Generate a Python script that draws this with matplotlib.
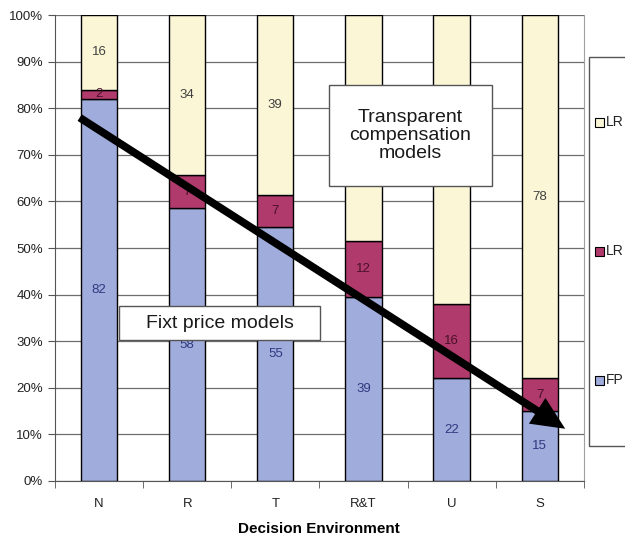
import numpy as np
import matplotlib.pyplot as plt
from matplotlib.patches import Rectangle

plt.rcParams['font.family'] = ['Liberation Sans', 'DejaVu Sans']

entornos = ['N', 'R', 'T', 'R&T', 'U', 'S']
fp = np.array([82, 58, 55, 39, 22, 15])
lr_rojo = np.array([2, 7, 7, 12, 16, 7])
lr_amarillo = np.array([16, 34, 39, 48, 62, 78])
# etiquetas amarillas tapadas por el cuadro de texto en el original
ocultas = ['R&T', 'U']
nombres_leyenda = ['LR', 'LR', 'FP']

col_fp = '#a0acdb'
col_rojo = '#b03a6c'
col_amar = '#faf6d6'

# 100% apilado
total = fp + lr_rojo + lr_amarillo
p_fp = fp / total * 100
p_rojo = lr_rojo / total * 100
p_amar = lr_amarillo / total * 100

fig = plt.figure(figsize=(6.25, 5.41), dpi=100)
ax = fig.add_axes([0.088, 0.111, 0.846, 0.861])

x = np.arange(len(entornos))
ancho = 0.41
ax.bar(x, p_fp, ancho, color=col_fp, edgecolor='black', linewidth=1, zorder=2)
ax.bar(x, p_rojo, ancho, bottom=p_fp, color=col_rojo, edgecolor='black', linewidth=1, zorder=2)
ax.bar(x, p_amar, ancho, bottom=p_fp + p_rojo, color=col_amar, edgecolor='black', linewidth=1, zorder=2)

for i in range(len(x)):
    ax.text(x[i], p_fp[i] / 2, str(fp[i]), ha='center', va='center', fontsize=9.5, color='#2e3a80', zorder=3)
    ax.text(x[i], p_fp[i] + p_rojo[i] / 2, str(lr_rojo[i]), ha='center', va='center', fontsize=9.5, color='#4a1028', zorder=3)
    if entornos[i] not in ocultas:
        ax.text(x[i], p_fp[i] + p_rojo[i] + p_amar[i] / 2, str(lr_amarillo[i]), ha='center', va='center',
                fontsize=9.5, color='#404040', zorder=3)

ax.set_xlim(-0.5, len(entornos) - 0.5)
ax.set_ylim(0, 100)
ax.set_yticks(np.arange(0, 101, 10))
ax.set_yticklabels([f'{v}%' for v in range(0, 101, 10)], fontsize=9.5, color='#222222')
ax.yaxis.grid(True, color='#6e6e6e', linewidth=0.9, zorder=0)
ax.set_axisbelow(True)

ax.set_xticks(x)
ax.set_xticklabels(entornos, fontsize=9.5, color='#222222')
ax.set_xticks(np.arange(-0.5, len(entornos), 1), minor=True)
ax.tick_params(axis='x', which='major', length=0, pad=12)
ax.tick_params(axis='x', which='minor', length=5, color='#555555')
ax.tick_params(axis='y', length=5, color='#555555')
ax.set_xlabel('Decision Environment', fontsize=11, fontweight='bold', labelpad=9)

ax.spines['top'].set_visible(False)
ax.spines['right'].set_color('#a0a0a0')
ax.spines['left'].set_color('#555555')
ax.spines['bottom'].set_color('#555555')

# flecha
ax.annotate('', xy=(5.29, 11.2), xytext=(-0.22, 78.0),
            arrowprops=dict(arrowstyle='simple,head_length=1.2,head_width=1.1,tail_width=0.28',
                            facecolor='black', edgecolor='none', mutation_scale=20,
                            shrinkA=0, shrinkB=0), zorder=5)

# cuadros de texto
def cuadro(x0, y0, x1, y1, texto, fs):
    fig.add_artist(Rectangle((x0 / 625, 1 - y1 / 541), (x1 - x0) / 625, (y1 - y0) / 541,
                             transform=fig.transFigure, facecolor='white', edgecolor='#555555', lw=1))
    fig.text((x0 + x1) / 2 / 625, 1 - (y0 + y1) / 2 / 541, texto, ha='center', va='center',
             fontsize=fs, color='#1a1a1a', linespacing=1.1)

cuadro(329, 85, 492, 186, 'Transparent\ncompensation\nmodels', 14)
cuadro(119, 306, 320, 340, 'Fixt price models', 14)

# leyenda (cortada por el borde derecho, como en el original)
fig.add_artist(Rectangle((589 / 625, 1 - 446 / 541), 60 / 625, (446 - 57) / 541,
                         transform=fig.transFigure, facecolor='white', edgecolor='#555555', lw=1))
for yy, col, nom in zip([122, 251, 380], [col_amar, col_rojo, col_fp], nombres_leyenda):
    fig.add_artist(Rectangle((595 / 625, 1 - (yy + 4.5) / 541), 9 / 625, 9 / 541,
                             transform=fig.transFigure, facecolor=col, edgecolor='black', lw=0.8))
    fig.text(606 / 625, 1 - yy / 541, nom, ha='left', va='center', fontsize=10, color='#222222')

fig.savefig('out.png', dpi=100)
